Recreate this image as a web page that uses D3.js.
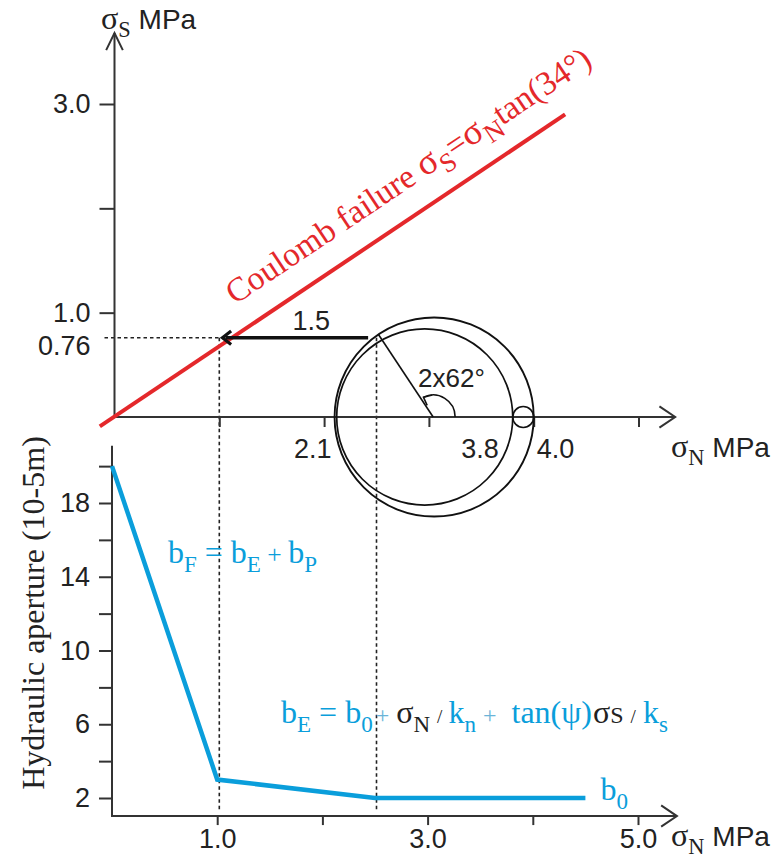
<!DOCTYPE html>
<html><head><meta charset="utf-8">
<script src="https://cdn.jsdelivr.net/npm/d3@7"></script>
<style>
html,body{margin:0;padding:0;background:#fff;}
svg{display:block;}
</style></head><body>
<script>
// ---------------- data ----------------
const topYTicks = [1, 2, 3];
const topYTickLabels = ["1.0", "", "3.0"];
const topXTicks = [1, 2, 3, 4, 5];
const topAxisMax = { sigmaN: 5.35, sigmaS: 3.68 };

const failureStress = 0.76;
const failureStressLabel = "0.76";
const failureSigmaN = 1.0;
const mohrTouchSigmaN = 2.5;

const coulombSigmaN = [-0.14, 4.3];
const coulombSigmaS = [-0.09, 2.9];

const mohrOuter = [2.1, 4.0];
const mohrInner = [2.12, 3.8];
const mohrSmall = [3.8, 4.0];
const mohrLabelValues = [2.1, 3.8, 4.0];
const mohrLabels = ["2.1", "3.8", "4.0"];
const doubleAngle = 124;           // 2 x 62°
const angleLabel = "2x62°";

const shiftArrowSigmaN = [2.42, 1.03];
const shiftLabel = "1.5";

const apertureSigmaN = [0, 1.0, 2.5, 4.5];
const apertureValues = [20, 3, 2, 2];
const botYTicks = [2, 4, 6, 8, 10, 12, 14, 16, 18, 20];
const botYLabelValues = [2, 6, 10, 14, 18];
const botXTicks = [1, 2, 3, 4, 5];
const botXLabelValues = [1, 3, 5];
const botAxisRange = { sigmaNMax: 5.37, bMin: 1.02, bMax: 21.1 };

// ---------------- setup ----------------
const W = 782, H = 858;
const SANS = "'Liberation Sans',Arial,sans-serif";
const SERIF = "'Liberation Serif','Times New Roman',serif";
const AX = "#333";
const RED = "#e4282b";
const BLUE = "#0a9edb";
const LIGHT = "#6ab4d8";

const svg = d3.select("body").append("svg").attr("width", W).attr("height", H)
  .style("background", "#fff");

const xTop = d3.scaleLinear().domain([0, 5]).range([114.5, 638.5]);
const yTop = d3.scaleLinear().domain([0, 3]).range([417, 104]);
const xBot = d3.scaleLinear().domain([0, 5]).range([112, 638]);
const yBot = d3.scaleLinear().domain([2, 18]).range([798, 503]);

function chevron(g, tx, ty, angDeg, len, half, width, color) {
  const a = angDeg * Math.PI / 180;
  const pts = [-half, half].map(h => {
    const b = a + Math.PI + h * Math.PI / 180;
    return [tx + len * Math.cos(b), ty + len * Math.sin(b)];
  });
  g.append("path")
    .attr("d", `M${pts[0][0]},${pts[0][1]}L${tx},${ty}L${pts[1][0]},${pts[1][1]}`)
    .attr("fill", "none").attr("stroke", color).attr("stroke-width", width)
    .attr("stroke-linejoin", "miter").attr("stroke-linecap", "butt");
}

function rich(parent, x, y, segs, base, family, fill) {
  const t = parent.append("text").attr("x", x).attr("y", y)
    .attr("font-family", family).attr("font-size", base).attr("fill", fill)
    .style("white-space", "pre");
  let shift = 0;
  segs.forEach(s => {
    const target = s.sub ? base * 0.27 : 0;
    const ts = t.append("tspan").text(s.t).attr("dy", target - shift);
    shift = target;
    if (s.dx) ts.attr("dx", s.dx);
    if (s.sub) ts.attr("font-size", base * (s.scale || 0.72));
    else if (s.scale) ts.attr("font-size", base * s.scale);
    if (s.fill) ts.attr("fill", s.fill);
    if (s.family) ts.attr("font-family", s.family);
  });
  return t;
}

// ---------------- dotted guides ----------------
const guides = svg.append("g").attr("stroke", "#222").attr("stroke-width", 1.6)
  .attr("stroke-dasharray", "3.5,3");
guides.append("line")
  .attr("x1", xTop(0) - 10).attr("x2", xTop(failureSigmaN))
  .attr("y1", yTop(failureStress)).attr("y2", yTop(failureStress));
[failureSigmaN, mohrTouchSigmaN].forEach(v => {
  guides.append("line")
    .attr("x1", xTop(v)).attr("x2", xTop(v))
    .attr("y1", yTop(failureStress)).attr("y2", yBot(botAxisRange.bMin) - 4);
});

// ---------------- top panel axes ----------------
const topAx = svg.append("g");
topAx.append("line").attr("x1", xTop(0)).attr("x2", xTop(0))
  .attr("y1", yTop(0)).attr("y2", yTop(topAxisMax.sigmaS))
  .attr("stroke", AX).attr("stroke-width", 2);
chevron(topAx, xTop(0), yTop(topAxisMax.sigmaS), -90, 19, 26, 2, AX);
topAx.append("line").attr("x1", xTop(0)).attr("x2", xTop(topAxisMax.sigmaN))
  .attr("y1", yTop(0)).attr("y2", yTop(0))
  .attr("stroke", AX).attr("stroke-width", 2);
chevron(topAx, xTop(topAxisMax.sigmaN), yTop(0), 0, 19, 34, 2, AX);

const yAxTop = d3.axisLeft(yTop).tickValues(topYTicks)
  .tickFormat((d, i) => topYTickLabels[i]).tickSize(15).tickPadding(9);
const gyt = svg.append("g").attr("transform", `translate(${xTop(0)},0)`).call(yAxTop);
gyt.select(".domain").remove();
gyt.selectAll(".tick line").attr("stroke", AX).attr("stroke-width", 2);
gyt.selectAll(".tick text").attr("font-family", SANS).attr("font-size", 27).attr("fill", "#222");
svg.append("text").attr("x", xTop(0) - 24).attr("y", yTop(failureStress) + 17)
  .attr("text-anchor", "end").attr("font-family", SANS).attr("font-size", 27)
  .attr("fill", "#222").text(failureStressLabel);

const xAxTop = d3.axisBottom(xTop).tickValues(topXTicks).tickFormat("").tickSize(10);
const gxt = svg.append("g").attr("transform", `translate(0,${yTop(0)})`).call(xAxTop);
gxt.select(".domain").remove();
gxt.selectAll(".tick line").attr("stroke", AX).attr("stroke-width", 2);

// axis titles
rich(svg, 101, 29, [
  { t: "σ", family: SERIF, scale: 1.15 },
  { t: "S", sub: true, family: SERIF, scale: 0.8 },
  { t: " MPa" }
], 28, SANS, "#222");
rich(svg, 671, 457, [
  { t: "σ", family: SERIF, scale: 1.15 },
  { t: "N", sub: true, family: SERIF, scale: 0.8 },
  { t: " MPa" }
], 28, SANS, "#222");

// ---------------- Coulomb line ----------------
svg.append("line")
  .attr("x1", xTop(coulombSigmaN[0])).attr("y1", yTop(coulombSigmaS[0]))
  .attr("x2", xTop(coulombSigmaN[1])).attr("y2", yTop(coulombSigmaS[1]))
  .attr("stroke", RED).attr("stroke-width", 4);
const ang = Math.atan2(yTop(coulombSigmaS[0]) - yTop(coulombSigmaS[1]),
  xTop(coulombSigmaN[1]) - xTop(coulombSigmaN[0])) * 180 / Math.PI;
const redG = svg.append("g").attr("transform", `translate(235,305) rotate(${-ang})`);
rich(redG, 0, 0, [
  { t: "Coulomb failure " },
  { t: "σ", scale: 1.1 },
  { t: "S", sub: true, scale: 0.8 },
  { t: "=" },
  { t: "σ", scale: 1.1 },
  { t: "N", sub: true, scale: 0.8 },
  { t: "tan(34°)" }
], 33.5, SERIF, RED);

// ---------------- Mohr circles ----------------
const cy = yTop(0);
function circ(range, w) {
  const cx = (xTop(range[0]) + xTop(range[1])) / 2;
  const r = (xTop(range[1]) - xTop(range[0])) / 2;
  svg.append("circle").attr("cx", cx).attr("cy", cy).attr("r", r)
    .attr("fill", "none").attr("stroke", "#111").attr("stroke-width", w);
  return { cx, r };
}
const outer = circ(mohrOuter, 1.9);
circ(mohrInner, 1.7);
circ(mohrSmall, 1.6);

const a2 = doubleAngle * Math.PI / 180;
svg.append("line").attr("x1", outer.cx - 1).attr("y1", cy)
  .attr("x2", outer.cx + outer.r * Math.cos(a2)).attr("y2", cy - outer.r * Math.sin(a2))
  .attr("stroke", "#111").attr("stroke-width", 1.6);

// angle arc
const arcR = 22, arcEnd = 116 * Math.PI / 180;
const p = d3.path();
p.arc(outer.cx - 1, cy, arcR, 0, -arcEnd, true);
svg.append("path").attr("d", p.toString()).attr("fill", "none")
  .attr("stroke", "#111").attr("stroke-width", 1.6);
const ex = outer.cx - 1 + arcR * Math.cos(arcEnd), ey = cy - arcR * Math.sin(arcEnd);
chevron(svg, ex, ey, Math.atan2(Math.cos(arcEnd), -Math.sin(arcEnd)) * 180 / Math.PI, 9, 40, 1.6, "#111");
svg.append("text").attr("x", 418).attr("y", 387).attr("font-family", SANS)
  .attr("font-size", 26).attr("fill", "#222").text(angleLabel);

// circle labels
mohrLabelValues.forEach((v, i) => {
  const right = i < 2;
  svg.append("text").attr("x", xTop(v) + (right ? (i === 0 ? -3 : -14) : 3)).attr("y", 458)
    .attr("text-anchor", right ? "end" : "start")
    .attr("font-family", SANS).attr("font-size", 27).attr("fill", "#222").text(mohrLabels[i]);
});

// shift arrow
const yA = yTop(failureStress);
svg.append("line").attr("x1", xTop(shiftArrowSigmaN[0])).attr("x2", xTop(shiftArrowSigmaN[1]) + 3)
  .attr("y1", yA).attr("y2", yA).attr("stroke", "#111").attr("stroke-width", 3.5);
chevron(svg, xTop(shiftArrowSigmaN[1]), yA, 180, 11, 38, 3.2, "#111");
svg.append("text").attr("x", (xTop(shiftArrowSigmaN[0]) + xTop(shiftArrowSigmaN[1])) / 2 + 16)
  .attr("y", 330).attr("text-anchor", "middle").attr("font-family", SANS)
  .attr("font-size", 27).attr("fill", "#222").text(shiftLabel);

// ---------------- bottom panel ----------------
svg.append("line").attr("x1", xBot(0)).attr("x2", xBot(0))
  .attr("y1", yBot(botAxisRange.bMin)).attr("y2", yBot(botAxisRange.bMax))
  .attr("stroke", AX).attr("stroke-width", 2);
svg.append("line").attr("x1", xBot(0) - 1).attr("x2", xBot(botAxisRange.sigmaNMax))
  .attr("y1", yBot(botAxisRange.bMin)).attr("y2", yBot(botAxisRange.bMin))
  .attr("stroke", AX).attr("stroke-width", 2);
chevron(svg, xBot(botAxisRange.sigmaNMax), yBot(botAxisRange.bMin), 0, 19, 34, 2, AX);

const yAxBot = d3.axisLeft(yBot).tickValues(botYTicks)
  .tickFormat(d => botYLabelValues.includes(d) ? String(d) : "").tickSize(13).tickPadding(9);
const gyb = svg.append("g").attr("transform", `translate(${xBot(0)},0)`).call(yAxBot);
gyb.select(".domain").remove();
gyb.selectAll(".tick line").attr("stroke", AX).attr("stroke-width", 2);
gyb.selectAll(".tick text").attr("font-family", SANS).attr("font-size", 27).attr("fill", "#222");

const xAxBot = d3.axisBottom(xBot).tickValues(botXTicks)
  .tickFormat(d => botXLabelValues.includes(d) ? d.toFixed(1) : "").tickSize(9).tickPadding(4);
const gxb = svg.append("g").attr("transform", `translate(0,${yBot(botAxisRange.bMin)})`).call(xAxBot);
gxb.select(".domain").remove();
gxb.selectAll(".tick line").attr("stroke", AX).attr("stroke-width", 2);
gxb.selectAll(".tick text").attr("font-family", SANS).attr("font-size", 27).attr("fill", "#222")
  .attr("dy", "0.71em");

rich(svg, 671, 846, [
  { t: "σ", family: SERIF, scale: 1.15 },
  { t: "N", sub: true, family: SERIF, scale: 0.8 },
  { t: " MPa" }
], 28, SANS, "#222");

svg.append("text").attr("transform", `translate(44,613) rotate(-90)`)
  .attr("text-anchor", "middle").attr("font-family", SERIF).attr("font-size", 32)
  .attr("fill", "#222").text("Hydraulic aperture (10-5m)");

// aperture line
const line = d3.line().x((d, i) => xBot(apertureSigmaN[i])).y(d => yBot(d));
svg.append("path").attr("d", line(apertureValues)).attr("fill", "none")
  .attr("stroke", BLUE).attr("stroke-width", 4.5).attr("stroke-linejoin", "miter");

// formulas
rich(svg, 168, 563, [
  { t: "b" }, { t: "F", sub: true }, { t: " = b" }, { t: "E", sub: true },
  { t: " + ", scale: 0.8 }, { t: "b" }, { t: "P", sub: true }
], 32, SERIF, BLUE);

rich(svg, 281, 723, [
  { t: "b" }, { t: "E", sub: true }, { t: " = b" }, { t: "0", sub: true },
  { t: "+", scale: 0.75, fill: LIGHT, dx: 3 },
  { t: "σ", fill: "#222", dx: 7 }, { t: "N", sub: true, fill: "#222" },
  { t: "/", scale: 0.6, fill: "#222", dx: 7 },
  { t: "k", dx: 6 }, { t: "n", sub: true },
  { t: "+", scale: 0.75, fill: LIGHT, dx: 7 },
  { t: "tan(ψ)", dx: 15 },
  { t: "σ", fill: "#222", dx: 1 }, { t: "S", scale: 0.75, fill: "#222" },
  { t: "/", scale: 0.6, fill: "#222", dx: 7 },
  { t: "k", dx: 7 }, { t: "s", sub: true }
], 32, SERIF, BLUE);

rich(svg, xBot(apertureSigmaN[3]) + 15, 800, [
  { t: "b" }, { t: "0", sub: true }
], 32, SERIF, BLUE);
</script>
</body></html>
